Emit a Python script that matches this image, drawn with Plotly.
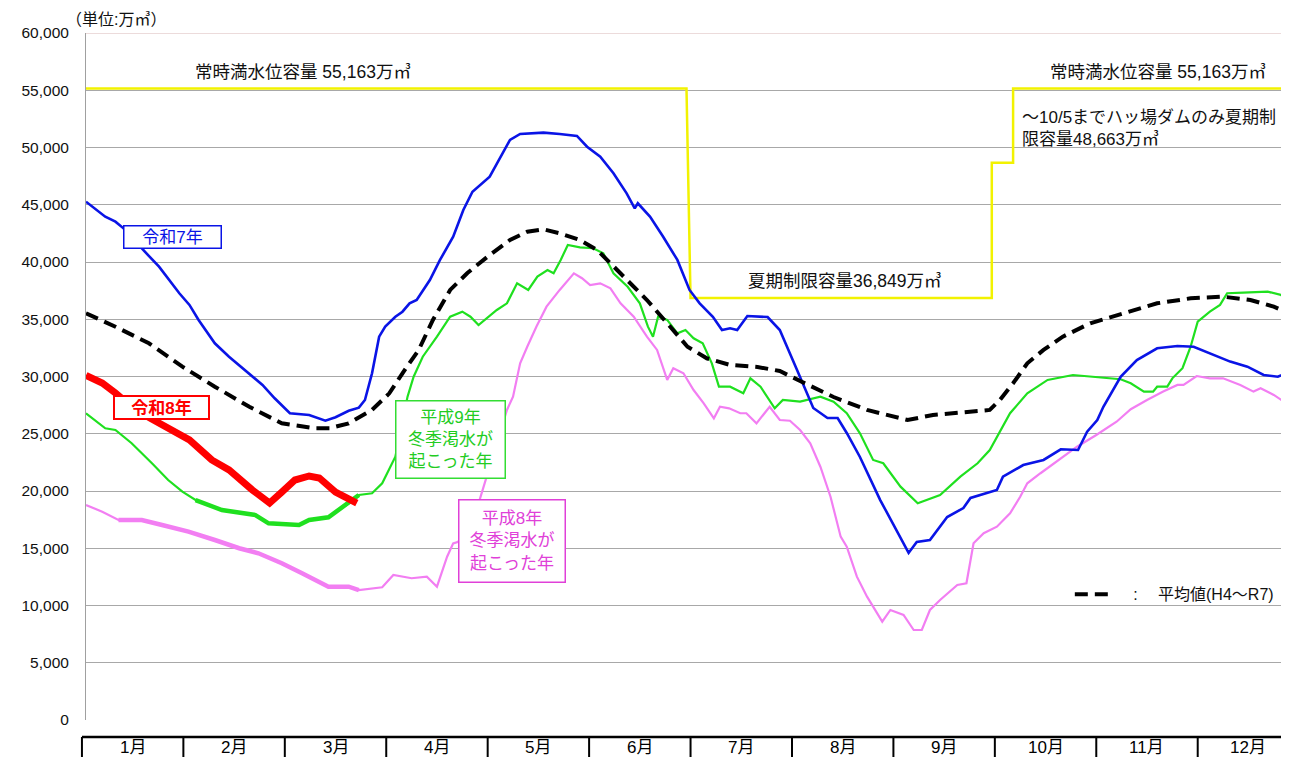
import numpy as np
import plotly.graph_objects as go

# ---------------- data (x = months since Jan 1, e.g. 1.5 = mid-Feb; y = 万m3) -------------
months = ["1月", "2月", "3月", "4月", "5月", "6月", "7月", "8月", "9月", "10月", "11月", "12月"]

r7_x = [0.04, 0.23, 0.33, 0.41, 0.62, 0.76, 0.96, 1.06, 1.15, 1.31, 1.45, 1.65, 1.78, 1.90, 2.05, 2.24,
        2.40, 2.50, 2.63, 2.73, 2.79, 2.86, 2.93, 2.99, 3.09, 3.16, 3.23, 3.30, 3.43, 3.53, 3.66, 3.76,
        3.85, 4.02, 4.09, 4.22, 4.32, 4.55, 4.71, 4.88, 4.98, 5.11, 5.24, 5.37, 5.45, 5.48, 5.60, 5.73,
        5.87, 5.99, 6.09, 6.22, 6.31, 6.39, 6.46, 6.56, 6.76, 6.88, 7.05, 7.21, 7.35, 7.45, 7.54, 7.67,
        7.87, 8.04, 8.15, 8.23, 8.36, 8.53, 8.69, 8.76, 8.95, 9.02, 9.08, 9.28, 9.48, 9.65, 9.82, 9.91,
        10.01, 10.07, 10.24, 10.40, 10.60, 10.80, 10.96, 11.12, 11.32, 11.49, 11.65, 11.79, 11.90]
r7_y = [45270, 43960, 43520, 42940, 40900, 39590, 37270, 36250, 34940, 32900, 31730, 30280, 29260, 28100,
        26790, 26640, 26140, 26440, 27010, 27280, 27950, 30280, 33480, 34350, 35220, 35660, 36390, 36680,
        38430, 40180, 42210, 44540, 46140, 47450, 48620, 50660, 51180, 51300, 51180, 51010, 50070, 49200,
        47750, 46000, 44690, 45130, 43960, 42210, 40180, 37560, 36390, 35220, 34060, 34210, 34060, 35280,
        35190, 34060, 30570, 27250, 26380, 26380, 25070, 22970, 19210, 16330, 14590, 15550, 15720, 17730,
        18510, 19390, 19940, 20090, 21250, 22270, 22710, 23640, 23580, 25180, 26200, 27360, 29980, 31440,
        32460, 32670, 32600, 32030, 31300, 30860, 30130, 29980, 30420]

avg_x = [0.04, 0.33, 0.66, 0.99, 1.31, 1.65, 1.97, 2.30, 2.44, 2.63, 2.86, 3.03, 3.16, 3.32, 3.46, 3.63,
         3.80, 4.00, 4.22, 4.39, 4.55, 4.71, 4.91, 5.08, 5.21, 5.38, 5.57, 5.77, 5.97, 6.16, 6.39, 6.66,
         6.88, 7.08, 7.41, 7.74, 8.14, 8.39, 8.73, 8.95, 9.05, 9.18, 9.32, 9.48, 9.67, 9.94, 10.27, 10.60,
         10.93, 11.25, 11.52, 11.75, 11.90]
avg_y = [35520, 34350, 32900, 30860, 29110, 27360, 25910, 25480, 25480, 25910, 27080, 28530, 30280, 32320,
         34940, 37560, 39040, 40470, 41920, 42650, 42860, 42510, 41920, 41050, 39890, 38430, 36680, 34650,
         32600, 31590, 31010, 30830, 30480, 29610, 28210, 27080, 26200, 26640, 26900, 27080, 27950, 29410,
         31150, 32320, 33480, 34650, 35520, 36390, 36830, 36970, 36680, 36100, 35520]

h9_x = [0.04, 0.23, 0.33, 0.49, 0.69, 0.85, 0.99, 1.12, 1.38, 1.71, 1.84, 2.14, 2.24, 2.43, 2.63, 2.73,
        2.86, 2.96, 3.09, 3.21, 3.27, 3.36, 3.50, 3.63, 3.75, 3.83, 3.91, 3.99, 4.09, 4.19, 4.29, 4.40,
        4.49, 4.59, 4.65, 4.72, 4.79, 4.91, 5.04, 5.14, 5.24, 5.38, 5.50, 5.58, 5.63, 5.68, 5.77, 5.87,
        5.95, 6.03, 6.12, 6.21, 6.28, 6.39, 6.52, 6.59, 6.69, 6.83, 6.91, 7.08, 7.28, 7.41, 7.54, 7.67,
        7.80, 7.90, 8.07, 8.24, 8.46, 8.66, 8.83, 8.95, 9.02, 9.15, 9.32, 9.52, 9.77, 10.04, 10.24, 10.34,
        10.47, 10.56, 10.60, 10.70, 10.75, 10.85, 10.93, 11.00, 11.12, 11.22, 11.29, 11.45, 11.69, 11.82,
        11.90]
h9_y = [26790, 25480, 25330, 24170, 22420, 20960, 19940, 19210, 18340, 17900, 17180, 17030, 17470, 17700,
        18930, 19650, 19800, 20670, 23000, 28240, 29980, 31730, 33480, 35220, 35660, 35220, 34500, 35080,
        35810, 36390, 38140, 37560, 38720, 39300, 39010, 40180, 41490, 41280, 41200, 40760, 39010, 37840,
        36390, 34350, 33480, 35220, 34940, 33770, 34060, 33340, 32900, 31150, 29110, 29110, 28530, 29840,
        29110, 27220, 27950, 27800, 28240, 27800, 26790, 25040, 22710, 22420, 20380, 18930, 19650, 21250,
        22420, 23580, 24740, 26790, 28530, 29700, 30130, 29900, 29760, 29410, 28680, 28680, 29110, 29110,
        29840, 30720, 32600, 34790, 35660, 36250, 37270, 37320, 37410, 37120, 36540]

h8_x = [0.04, 0.20, 0.36, 0.59, 0.79, 1.05, 1.31, 1.55, 1.74, 1.97, 2.17, 2.43, 2.63, 2.73, 2.96, 3.07,
        3.25, 3.40, 3.50, 3.60, 3.66, 3.71, 3.92, 3.99, 4.09, 4.19, 4.25, 4.32, 4.39, 4.48, 4.58, 4.71,
        4.85, 4.93, 5.01, 5.11, 5.21, 5.31, 5.44, 5.57, 5.67, 5.77, 5.83, 5.93, 6.03, 6.13, 6.23, 6.29,
        6.38, 6.49, 6.55, 6.65, 6.78, 6.88, 6.98, 7.08, 7.18, 7.28, 7.38, 7.48, 7.54, 7.64, 7.74, 7.89,
        7.97, 8.10, 8.20, 8.28, 8.36, 8.46, 8.63, 8.72, 8.79, 8.89, 9.02, 9.15, 9.25, 9.32, 9.45, 9.61,
        9.81, 10.00, 10.20, 10.34, 10.50, 10.66, 10.80, 10.86, 10.99, 11.12, 11.25, 11.42, 11.55, 11.62,
        11.75, 11.90]
h8_y = [18780, 18190, 17470, 17470, 17030, 16450, 15720, 15000, 14560, 13690, 12810, 11640, 11640, 11350,
        11590, 12660, 12380, 12520, 11640, 14260, 15430, 15570, 19210, 21250, 24170, 27080, 28240, 31150,
        32600, 34350, 36100, 37560, 39010, 38580, 37990, 38140, 37700, 36390, 35220, 33480, 32320, 29700,
        30720, 30280, 28820, 27660, 26350, 27360, 27220, 26790, 26790, 25910, 27360, 26200, 26140, 25330,
        24170, 22120, 19500, 16010, 15140, 12520, 10770, 8590, 9610, 9170, 7860, 7860, 9610, 10480, 11790,
        11940, 15430, 16310, 16880, 18050, 19500, 20670, 21550, 22560, 23870, 24890, 26050, 27140, 27950,
        28680, 29260, 29260, 30040, 29840, 29840, 29260, 28680, 28970, 28390, 27510]

r8_x = [0.04, 0.20, 0.33, 0.49, 0.67, 0.82, 1.06, 1.28, 1.45, 1.68, 1.85, 1.97, 2.10, 2.24, 2.34, 2.50,
        2.63, 2.71]
r8_y = [30100, 29430, 28560, 27340, 26380, 25590, 24460, 22710, 21840, 20090, 18950, 19910, 20960, 21310,
        21140, 19910, 19210, 18950]

# capacity limit (常時満水位容量 / 夏期制限容量)
cap_x = [0.04, 5.96, 6.00, 8.97, 8.97, 9.18, 9.18, 11.90]
cap_y = [55163, 55163, 36849, 36849, 48663, 48663, 55163, 55163]

# ---------------- figure -------------------------------------------------------------------
XR = [0.04, 11.90]
FONT = "Liberation Sans, Arial, Noto Sans CJK JP, sans-serif"
PLOT_W = 1203  # plot-area width in px


def paper_x(m):
    return (m - XR[0]) / (XR[1] - XR[0])


fig = go.Figure()

fig.add_trace(go.Scatter(x=cap_x, y=cap_y, mode="lines", line=dict(color="#f2f200", width=2.5),
                         showlegend=False, hoverinfo="skip"))


def thick_part(xs, ys, lo, hi):
    xs = np.array(xs)
    ys = np.array(ys)
    m = (xs >= lo) & (xs <= hi)
    return xs[m], ys[m]


fig.add_trace(go.Scatter(x=h8_x, y=h8_y, mode="lines", line=dict(color="#f27ef2", width=2.2),
                         showlegend=False))
tx, ty = thick_part(h8_x, h8_y, 0.33, 2.75)
fig.add_trace(go.Scatter(x=tx, y=ty, mode="lines", line=dict(color="#f27ef2", width=4.5),
                         showlegend=False))

fig.add_trace(go.Scatter(x=h9_x, y=h9_y, mode="lines", line=dict(color="#1fe01f", width=2.2),
                         showlegend=False))
tx, ty = thick_part(h9_x, h9_y, 1.0, 2.75)
fig.add_trace(go.Scatter(x=tx, y=ty, mode="lines", line=dict(color="#1fe01f", width=4.5),
                         showlegend=False))

fig.add_trace(go.Scatter(x=r7_x, y=r7_y, mode="lines", line=dict(color="#0a14e6", width=2.6),
                         showlegend=False))

fig.add_trace(go.Scatter(x=avg_x, y=avg_y, mode="lines", name="   :\u3000 平均値(H4～R7)",
                         line=dict(color="#000000", width=4, dash="13px,7px"), showlegend=True))

fig.add_trace(go.Scatter(x=r8_x, y=r8_y, mode="lines", line=dict(color="#ff0000", width=7),
                         showlegend=False))

# ---------------- shapes -------------------------------------------------------------------
shapes = []
# top border line
shapes.append(dict(type="line", xref="paper", yref="y", x0=0, x1=1, y0=60000, y1=60000,
                   line=dict(color="#d9b8b8", width=1.2), layer="below"))
# month table below the plot
box_top = -0.0247
shapes.append(dict(type="line", xref="paper", yref="paper", x0=paper_x(0), x1=1.0,
                   y0=box_top, y1=box_top, line=dict(color="#000", width=2.5)))
for i in range(13):
    shapes.append(dict(type="line", xref="paper", yref="paper", x0=paper_x(i), x1=paper_x(i),
                       y0=box_top, y1=-0.08, line=dict(color="#000", width=2)))

annotations = []
for i, mname in enumerate(months):
    annotations.append(dict(x=paper_x(i + 0.5), y=-0.0405, xref="paper", yref="paper", text=mname,
                            xanchor="center", yanchor="middle", showarrow=False,
                            font=dict(family=FONT, size=17, color="#000")))

annotations += [
    dict(x=-22 / PLOT_W, y=1.019, xref="paper", yref="paper", xanchor="left", yanchor="middle",
         text="（単位:万㎥）", showarrow=False, font=dict(family=FONT, size=16, color="#111")),
    dict(x=2.18, y=56600, xref="x", yref="y", text="常時満水位容量 55,163万㎥", showarrow=False,
         font=dict(family=FONT, size=17.5, color="#111")),
    dict(x=10.61, y=56600, xref="x", yref="y", text="常時満水位容量 55,163万㎥", showarrow=False,
         font=dict(family=FONT, size=17.5, color="#111")),
    dict(x=9.25, y=51700, xref="x", yref="y", xanchor="left", align="left",
         text="～10/5までハッ場ダムのみ夏期制<br>限容量48,663万㎥", showarrow=False,
         font=dict(family=FONT, size=17, color="#111")),
    dict(x=7.52, y=38340, xref="x", yref="y", text="夏期制限容量36,849万㎥", showarrow=False,
         font=dict(family=FONT, size=17.5, color="#111")),
    dict(x=0.89, y=42190, xref="x", yref="y", text="令和7年", showarrow=False,
         font=dict(family=FONT, size=17, color="#0a14e6"), bgcolor="white", bordercolor="#0a14e6",
         borderwidth=1.5, borderpad=1, width=94, height=19),
    dict(x=0.78, y=27290, xref="x", yref="y", text="<b>令和8年</b>", showarrow=False,
         font=dict(family=FONT, size=17, color="#ff0000"), bgcolor="white", bordercolor="#ff0000",
         borderwidth=2, borderpad=1, width=91, height=19),
    dict(x=3.63, y=24540, xref="x", yref="y", text="平成9年<br>冬季渇水が<br>起こった年", showarrow=False,
         font=dict(family=FONT, size=17, color="#22cc22"), bgcolor="white", bordercolor="#33dd33",
         borderwidth=1.5, borderpad=2, width=104, height=72),
    dict(x=4.24, y=15590, xref="x", yref="y", text="平成8年<br>冬季渇水が<br>起こった年", showarrow=False,
         font=dict(family=FONT, size=17, color="#e040d8"), bgcolor="white", bordercolor="#e040d8",
         borderwidth=1.5, borderpad=2, width=101, height=77),
]

# the page body has an 8px margin, so the figure is 8px smaller than the window
fig.update_layout(
    width=1281, height=749,
    margin=dict(l=78, r=0, t=25, b=37, autoexpand=False),
    plot_bgcolor="white", paper_bgcolor="white",
    font=dict(family=FONT, size=16, color="#111"),
    shapes=shapes, annotations=annotations,
    legend=dict(x=paper_x(9.68) + 6 / PLOT_W, y=0.183, xanchor="left", yanchor="middle",
                bgcolor="rgba(0,0,0,0)", font=dict(family=FONT, size=16, color="#111"),
                itemwidth=40),
    xaxis=dict(range=XR, showgrid=False, zeroline=False, showticklabels=False, ticks="",
               showline=False, fixedrange=True),
    yaxis=dict(range=[0, 60000], tickvals=list(range(0, 60001, 5000)), tickformat=",",
               showgrid=True, gridcolor="#a8a8a8", gridwidth=1, zeroline=False,
               showline=True, linecolor="#a0a0a0", linewidth=1, ticks="",
               ticklabelstandoff=13, tickfont=dict(family=FONT, size=15.5, color="#111")),
)

fig.write_html("out.html")
